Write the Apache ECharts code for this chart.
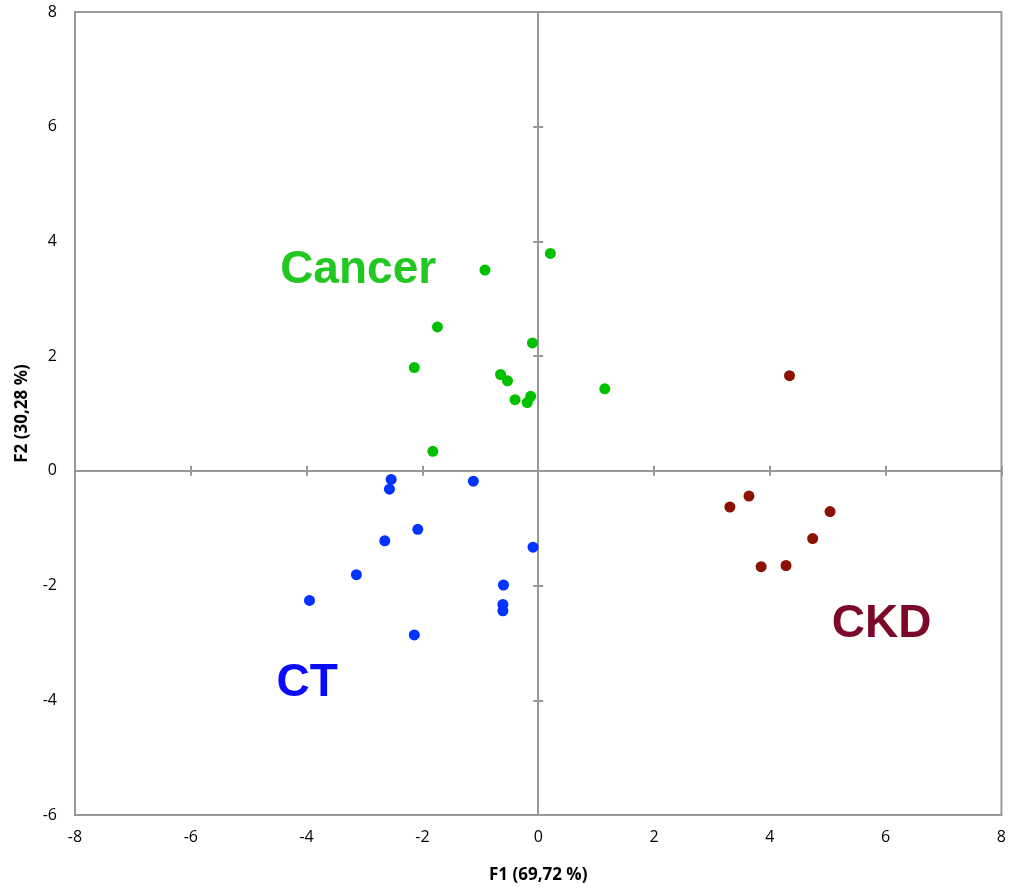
<!DOCTYPE html>
<html>
<head>
<meta charset="utf-8">
<script src="https://cdn.jsdelivr.net/npm/echarts@6/dist/echarts.min.js"></script>
<style>html,body{margin:0;padding:0;background:#fff;overflow:hidden;width:100%;height:100%}#c{width:100vw;height:100vh}</style>
</head>
<body>
<div id="c"></div>
<script>
// Observations (F1, F2)
const cancerPoints = [
  [0.21, 3.79], [-0.92, 3.50], [-1.74, 2.51], [-0.10, 2.23], [-2.14, 1.80],
  [-0.65, 1.68], [-0.53, 1.57], [1.15, 1.43], [-0.40, 1.24], [-0.13, 1.30],
  [-0.19, 1.19], [-1.82, 0.34]
];
const ctPoints = [
  [-2.54, -0.15], [-2.57, -0.32], [-1.12, -0.18], [-2.08, -1.02], [-2.65, -1.22],
  [-0.09, -1.33], [-3.14, -1.81], [-3.95, -2.26], [-0.60, -1.99], [-0.61, -2.33],
  [-0.61, -2.44], [-2.14, -2.86]
];
const ckdPoints = [
  [4.34, 1.66], [3.64, -0.44], [3.31, -0.63], [5.04, -0.71], [4.74, -1.18],
  [4.28, -1.65], [3.85, -1.67]
];
// Group labels and their anchor positions (data coords)
const groupNames = ['Cancer', 'CT', 'CKD'];
const groupLabelPos = [[-3.11, 3.50], [-3.99, -3.71], [5.93, -2.68]];
const xAxisName = 'F1 (69,72 %)';
const yAxisName = 'F2 (30,28 %)';
const xRange = [-8, 8];
const yRange = [-6, 8];

const pointColors = ['#00c000', '#0033ff', '#8b1200'];
const labelColors = ['#22c722', '#0a0aff', '#7b0a2a'];
const gray = '#999999';
const tickFont = { fontFamily: 'Open Sans, Liberation Sans, sans-serif', fontSize: 16, color: '#000' };
const nameFont = { fontFamily: 'Open Sans, Liberation Sans, sans-serif', fontSize: 17, fontWeight: 'bold', color: '#000' };

function xAx(extra) {
  return Object.assign({
    type: 'value', min: xRange[0], max: xRange[1], interval: 2,
    splitLine: { show: false },
    axisLine: { show: true, onZero: true, lineStyle: { color: gray, width: 2 } },
    axisTick: { show: true, length: 5, lineStyle: { color: gray, width: 2 } },
    axisLabel: { show: false }
  }, extra);
}
function yAx(extra) {
  return Object.assign({
    type: 'value', min: yRange[0], max: yRange[1], interval: 2,
    splitLine: { show: false },
    axisLine: { show: true, onZero: true, lineStyle: { color: gray, width: 2 } },
    axisTick: { show: true, length: 5, lineStyle: { color: gray, width: 2 } },
    axisLabel: { show: false }
  }, extra);
}

const chart = echarts.init(document.getElementById('c'));
chart.setOption({
  animation: false,
  backgroundColor: '#fff',
  grid: { left: 75, top: 12, right: 3, bottom: 69, show: true, borderColor: gray, borderWidth: 2, backgroundColor: 'transparent' },
  xAxis: [
    xAx({
      position: 'bottom',
      axisLine: { show: true, onZero: false, lineStyle: { color: gray, width: 2 } },
      axisTick: { show: false },
      axisLabel: Object.assign({ show: true, margin: 14 }, tickFont),
      name: xAxisName, nameLocation: 'middle', nameGap: 52,
      nameTextStyle: nameFont
    }),
    xAx({ position: 'bottom' }),
    xAx({ position: 'top' })
  ],
  yAxis: [
    yAx({
      position: 'left',
      axisLine: { show: true, onZero: false, lineStyle: { color: gray, width: 2 } },
      axisTick: { show: false },
      axisLabel: Object.assign({ show: true, margin: 18 }, tickFont),
      name: yAxisName, nameLocation: 'middle', nameGap: 44, nameRotate: 90,
      nameTextStyle: nameFont
    }),
    yAx({ position: 'left' }),
    yAx({ position: 'right' })
  ],
  series: [
    { type: 'scatter', name: 'Cancer', data: cancerPoints, symbolSize: 11, itemStyle: { color: pointColors[0], opacity: 1 }, z: 5 },
    { type: 'scatter', name: 'CT', data: ctPoints, symbolSize: 11, itemStyle: { color: pointColors[1], opacity: 1 }, z: 5 },
    { type: 'scatter', name: 'CKD', data: ckdPoints, symbolSize: 11, itemStyle: { color: pointColors[2], opacity: 1 }, z: 5 },
    {
      type: 'scatter', symbolSize: 1, silent: true, z: 6,
      itemStyle: { opacity: 1, color: 'rgba(0,0,0,0)' },
      data: groupNames.map((n, i) => ({
        value: groupLabelPos[i], name: n,
        label: {
          show: true, position: 'inside', formatter: n, opacity: 1,
          fontFamily: 'Liberation Sans, Arial, sans-serif', fontWeight: 'bold', fontSize: 46,
          color: labelColors[i]
        }
      }))
    }
  ]
});
</script>
</body>
</html>
